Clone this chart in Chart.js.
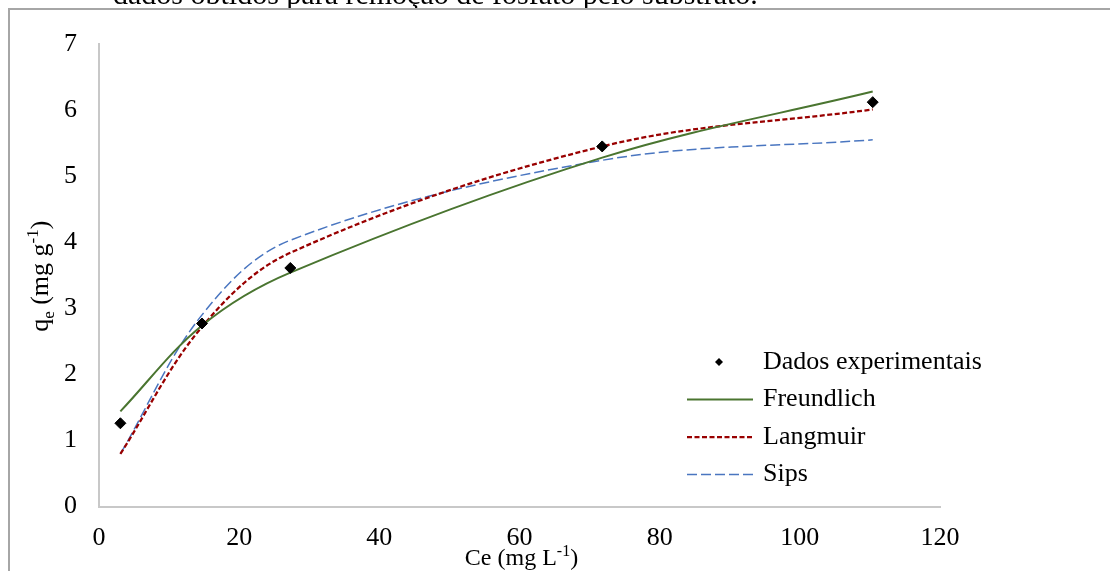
<!DOCTYPE html>
<html>
<head>
<meta charset="utf-8">
<script src="https://cdn.jsdelivr.net/npm/chart.js@4.4.1/dist/chart.umd.min.js"></script>
<style>
  html, body { margin: 0; padding: 0; background: #fff; overflow: hidden; }
  #wrap { position: absolute; left: 0; top: 0; width: 1110px; height: 571px; }
  canvas { display: block; }
</style>
</head>
<body>
<div id="wrap"><canvas id="isoterma" width="1110" height="571"></canvas></div>
<script>
// Equilibrium concentration Ce (mg L-1) of each experiment
const ceValues = [3.05, 14.7, 27.3, 71.8, 110.4];
// Adsorbed amount qe (mg g-1): measured and fitted by each isotherm model
const qeExperimental = [1.26, 2.77, 3.61, 5.45, 6.12];
const qeFreundlich   = [1.44, 2.74, 3.54, 5.28, 6.28];
const qeLangmuir     = [0.795, 2.72, 3.84, 5.45, 6.01];
const qeSips         = [0.795, 2.90, 4.03, 5.24, 5.55];
const seriesNames = ['Dados experimentais', 'Freundlich', 'Langmuir', 'Sips'];
const xTicks = [0, 20, 40, 60, 80, 100, 120];
const yTicks = [0, 1, 2, 3, 4, 5, 6, 7];
const headerText = 'dados obtidos para remoção de fosfato pelo substrato.';

const SERIF = '"Liberation Serif", "Times New Roman", serif';

function toPoints(values) {
  return ceValues.map((c, i) => ({ x: c, y: values[i] }));
}

// Text with sub/superscript pieces, centred on (cx, cy)
function drawRich(ctx, parts, cx, cy, size) {
  const small = Math.round(size * 0.65);
  let total = 0;
  parts.forEach(p => {
    ctx.font = (p.sub || p.sup ? small : size) + 'px ' + SERIF;
    p.w = ctx.measureText(p.t).width;
    total += p.w;
  });
  let x = cx - total / 2;
  const base = cy + size * 0.34;
  ctx.textAlign = 'left';
  ctx.textBaseline = 'alphabetic';
  parts.forEach(p => {
    ctx.font = (p.sub || p.sup ? small : size) + 'px ' + SERIF;
    let y = base;
    if (p.sub) y += size * 0.22;
    if (p.sup) y -= size * 0.38;
    ctx.fillText(p.t, x, y);
    x += p.w;
  });
}

const pagePlugin = {
  id: 'page',
  beforeDraw(chart) {
    const ctx = chart.ctx;
    ctx.save();
    ctx.fillStyle = '#fff';
    ctx.fillRect(0, 0, chart.width, chart.height);
    // document line above the chart frame
    ctx.fillStyle = '#000';
    ctx.font = '30px ' + SERIF;
    ctx.textAlign = 'left';
    ctx.textBaseline = 'alphabetic';
    ctx.fillText(headerText, 113, 4);
    // chart frame
    ctx.strokeStyle = '#a6a6a6';
    ctx.lineWidth = 2;
    ctx.beginPath();
    ctx.moveTo(9, chart.height);
    ctx.lineTo(9, 9);
    ctx.lineTo(chart.width, 9);
    ctx.stroke();
    ctx.restore();
  }
};

const titlePlugin = {
  id: 'axisTitles',
  afterDraw(chart) {
    const ctx = chart.ctx;
    const area = chart.chartArea;
    ctx.save();
    ctx.fillStyle = '#000';
    drawRich(ctx, [{ t: 'Ce (mg L' }, { t: '-1', sup: true }, { t: ')' }],
      (area.left + area.right) / 2 + 2, 557, 24);
    ctx.translate(39, (area.top + area.bottom) / 2 + 1);
    ctx.rotate(-Math.PI / 2);
    drawRich(ctx, [{ t: 'q' }, { t: 'e', sub: true }, { t: ' (mg g' }, { t: '-1', sup: true }, { t: ')' }],
      0, 0, 26);
    ctx.restore();
  }
};

const legendPlugin = {
  id: 'isoLegend',
  afterDraw(chart) {
    const ctx = chart.ctx;
    const rows = [362, 399.5, 437, 474.5];
    const x0 = 687, x1 = 753, tx = 763;
    ctx.save();
    chart.data.datasets.forEach((ds, i) => {
      const y = rows[i];
      if (ds.showLine === false) {
        const r = 4, cx = (x0 + x1) / 2 - 1;
        ctx.fillStyle = ds.backgroundColor;
        ctx.beginPath();
        ctx.moveTo(cx, y - r);
        ctx.lineTo(cx + r, y);
        ctx.lineTo(cx, y + r);
        ctx.lineTo(cx - r, y);
        ctx.closePath();
        ctx.fill();
      } else {
        ctx.strokeStyle = ds.borderColor;
        ctx.lineWidth = ds.borderWidth;
        ctx.setLineDash(ds.borderDash || []);
        ctx.beginPath();
        ctx.moveTo(x0, y);
        ctx.lineTo(x1, y);
        ctx.stroke();
        ctx.setLineDash([]);
      }
      ctx.fillStyle = '#000';
      ctx.font = '26px ' + SERIF;
      ctx.textAlign = 'left';
      ctx.textBaseline = 'middle';
      ctx.fillText(ds.label, tx, y);
    });
    ctx.restore();
  }
};

const tickFont = { family: SERIF, size: 26 };

new Chart(document.getElementById('isoterma'), {
  type: 'line',
  data: {
    datasets: [
      {
        label: seriesNames[0],
        data: toPoints(qeExperimental),
        showLine: false,
        pointStyle: 'rectRot',
        pointRadius: 5.5,
        pointBorderWidth: 1,
        backgroundColor: '#000',
        borderColor: '#000'
      },
      {
        label: seriesNames[1],
        data: toPoints(qeFreundlich),
        borderColor: '#4a7530',
        borderWidth: 2,
        pointRadius: 0,
        tension: 0.35,
        fill: false
      },
      {
        label: seriesNames[2],
        data: toPoints(qeLangmuir),
        borderColor: '#990000',
        borderWidth: 2.25,
        borderDash: [5, 2.5],
        pointRadius: 0,
        tension: 0.35,
        fill: false
      },
      {
        label: seriesNames[3],
        data: toPoints(qeSips),
        borderColor: '#4a76c0',
        borderWidth: 1.5,
        borderDash: [10, 4],
        pointRadius: 0,
        tension: 0.35,
        fill: false
      }
    ]
  },
  options: {
    responsive: false,
    animation: false,
    events: [],
    layout: { padding: { left: 0, top: 44, right: 170, bottom: 0 } },
    plugins: { legend: { display: false }, tooltip: { enabled: false } },
    scales: {
      x: {
        type: 'linear',
        min: xTicks[0],
        max: xTicks[xTicks.length - 1],
        grid: { display: false, drawTicks: false },
        border: { display: true, color: '#c8c8c8', width: 2 },
        ticks: { font: tickFont, color: '#000', padding: 16, maxRotation: 0 },
        afterBuildTicks(scale) { scale.ticks = xTicks.map(v => ({ value: v })); },
        afterFit(scale) { scale.height = 64.5; }
      },
      y: {
        type: 'linear',
        min: yTicks[0],
        max: yTicks[yTicks.length - 1],
        grid: { display: false, drawTicks: false },
        border: { display: true, color: '#c8c8c8', width: 2 },
        ticks: { font: tickFont, color: '#000', padding: 22 },
        afterBuildTicks(scale) { scale.ticks = yTicks.map(v => ({ value: v })); },
        afterFit(scale) { scale.width = 99; }
      }
    }
  },
  plugins: [pagePlugin, titlePlugin, legendPlugin]
});
</script>
</body>
</html>
